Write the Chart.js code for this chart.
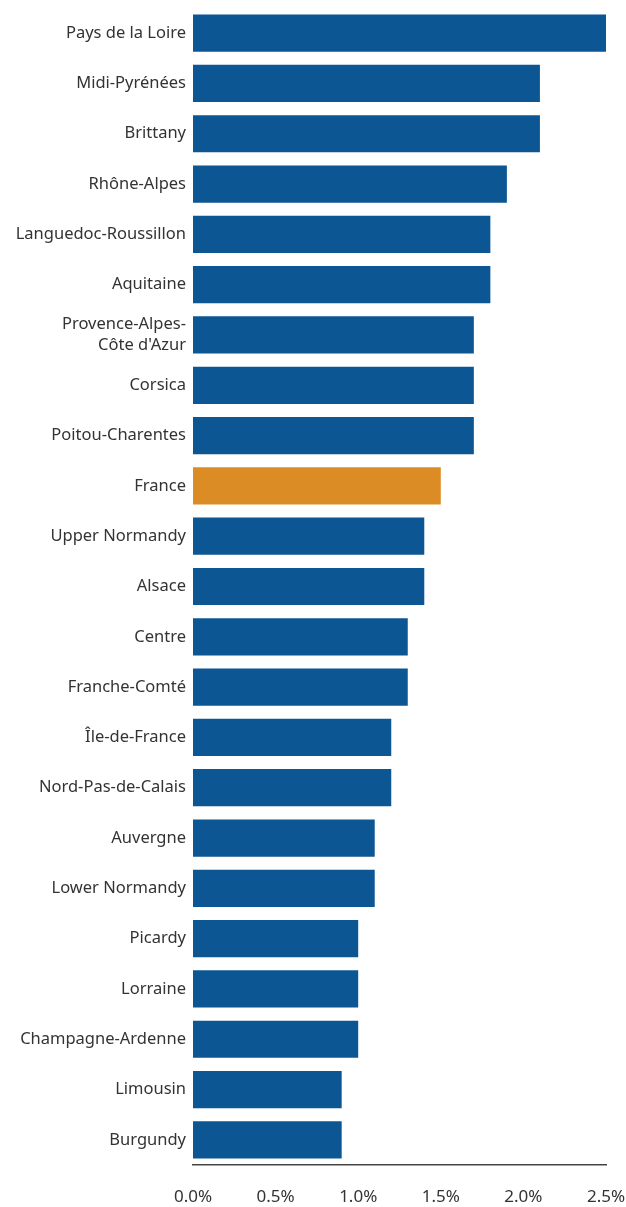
<!DOCTYPE html>
<html>
<head>
<meta charset="utf-8">
<script src="https://cdn.jsdelivr.net/npm/chart.js@4/dist/chart.umd.min.js"></script>
<style>
  html, body { margin: 0; padding: 0; background: #fff; }
  #wrap { width: 626px; height: 1207px; position: relative; }
</style>
</head>
<body>
<div id="wrap"><canvas id="chart"></canvas></div>
<script>
// Regions, top to bottom
const regions = [
  'Pays de la Loire', 'Midi-Pyrénées', 'Brittany', 'Rhône-Alpes',
  'Languedoc-Roussillon', 'Aquitaine', ['Provence-Alpes-', "Côte d'Azur"],
  'Corsica', 'Poitou-Charentes', 'France', 'Upper Normandy', 'Alsace',
  'Centre', 'Franche-Comté', 'Île-de-France', 'Nord-Pas-de-Calais',
  'Auvergne', 'Lower Normandy', 'Picardy', 'Lorraine', 'Champagne-Ardenne',
  'Limousin', 'Burgundy',
];
// Values in percent
const values = [
  2.5, 2.1, 2.1, 1.9,
  1.8, 1.8, 1.7,
  1.7, 1.7, 1.5, 1.4, 1.4,
  1.3, 1.3, 1.2, 1.2,
  1.1, 1.1, 1.0, 1.0, 1.0,
  0.9, 0.9,
];
const xTicks = [0, 0.5, 1, 1.5, 2, 2.5];

const blue = '#0c5694';
const orange = '#dc8c25';
const barColors = regions.map((r) => (r === 'France' ? orange : blue));

const ctx = document.getElementById('chart');
// eslint-disable-next-line no-unused-vars
const chart = new Chart(ctx, {
  type: 'bar',
  data: {
    labels: regions,
    datasets: [{
      data: values,
      backgroundColor: barColors,
      borderWidth: 0,
      barPercentage: 0.74,
      categoryPercentage: 1,
    }],
  },
  options: {
    indexAxis: 'y',
    responsive: true,
    maintainAspectRatio: false,
    animation: false,
    layout: { padding: 0 },
    plugins: { legend: { display: false }, tooltip: { enabled: false } },
    scales: {
      x: {
        min: 0,
        max: 2.5,
        afterBuildTicks(axis) {
          axis.ticks = xTicks.map((v) => ({ value: v }));
        },
        grid: { display: false, drawTicks: false },
        border: { display: true, color: '#444', width: 1.5 },
        ticks: {
          color: '#333',
          padding: 22,
          maxRotation: 0,
          font: { family: 'Noto Sans', size: 17 },
          callback: (v) => `${Number(v).toFixed(1)}%`,
        },
        afterFit(axis) {
          axis.height = 42;
          axis.paddingRight = 20;
        },
      },
      y: {
        grid: { display: false, drawTicks: false },
        border: { display: false },
        ticks: {
          color: '#333',
          padding: 7,
          autoSkip: false,
          font: { family: 'Noto Sans', size: 16.5, lineHeight: 1.25 },
        },
        afterFit(axis) {
          axis.width = 193;
          axis.paddingTop = 8;
          axis.paddingBottom = 0;
        },
      },
    },
  },
});
</script>
</body>
</html>
